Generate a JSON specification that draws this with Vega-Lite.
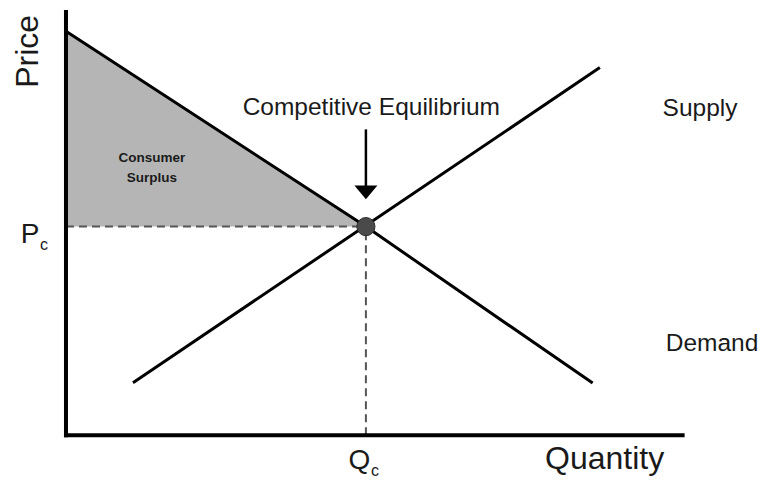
{
  "$schema": "https://vega.github.io/schema/vega-lite/v6.json",
  "width": 760,
  "height": 480,
  "padding": 0,
  "autosize": {"type": "fit", "contains": "padding"},
  "background": "white",
  "config": {"view": {"stroke": null}, "text": {"font": "Liberation Sans, Arial, sans-serif", "color": "#1a1a1a"}},
  "datasets": {
    "curves": [
      {"series": "Demand", "q": 0, "p": 9.68},
      {"series": "Demand", "q": 5, "p": 5},
      {"series": "Demand", "q": 8.78, "p": 1.25},
      {"series": "Supply", "q": 1.117, "p": 1.26},
      {"series": "Supply", "q": 8.9, "p": 8.81}
    ],
    "surplus": [
      {"q": 0, "p": 9.68, "p2": 5},
      {"q": 5, "p": 5, "p2": 5}
    ],
    "axes": [
      {"q": 0, "p": 0, "q2": 0, "p2": 10.14},
      {"q": 0, "p": 0, "q2": 10.28, "p2": 0}
    ],
    "guides": [
      {"q": 0, "p": 5, "q2": 5, "p2": 5},
      {"q": 5, "p": 0, "q2": 5, "p2": 5}
    ],
    "arrow": [{"q": 5, "p": 7.33, "q2": 5, "p2": 5.95}],
    "head": [{"q": 5, "p": 5.82}],
    "eq": [{"q": 5, "p": 5}],
    "bigLabels": [
      {"label": "Competitive Equilibrium", "q": 5.09, "p": 7.67},
      {"label": "Supply", "q": 10.57, "p": 7.64},
      {"label": "Demand", "q": 10.77, "p": 2.02}
    ],
    "priceTitle": [{"label": "Price", "q": -0.63, "p": 9.2}],
    "quantityTitle": [{"label": "Quantity", "q": 8.98, "p": -0.81}],
    "eqLetters": [
      {"label": "P", "q": -0.6, "p": 4.6},
      {"label": "Q", "q": 4.89, "p": -0.8}
    ],
    "subs": [
      {"label": "c", "q": -0.367, "p": 4.43},
      {"label": "c", "q": 5.15, "p": -0.98}
    ],
    "surplusText": [
      {"label": "Consumer", "q": 1.43, "p": 6.55},
      {"label": "Surplus", "q": 1.43, "p": 6.08}
    ]
  },
  "encoding": {
    "x": {"field": "q", "type": "quantitative", "axis": null, "scale": {"domain": [-1.1, 11.57], "nice": false, "zero": false}},
    "y": {"field": "p", "type": "quantitative", "axis": null, "scale": {"domain": [-1, 10.43], "nice": false, "zero": false}}
  },
  "layer": [
    {
      "data": {"name": "surplus"},
      "mark": {"type": "area", "color": "#b5b5b5", "opacity": 1},
      "encoding": {"y2": {"field": "p2"}}
    },
    {
      "data": {"name": "guides"},
      "mark": {"type": "rule", "color": "#555555", "strokeWidth": 2, "strokeDash": [8, 5]},
      "encoding": {"x2": {"field": "q2"}, "y2": {"field": "p2"}}
    },
    {
      "data": {"name": "curves"},
      "mark": {"type": "line", "color": "#000000", "strokeWidth": 3},
      "encoding": {"detail": {"field": "series"}, "order": {"field": "q"}}
    },
    {
      "data": {"name": "axes"},
      "mark": {"type": "rule", "color": "#000000", "strokeWidth": 4, "strokeCap": "square"},
      "encoding": {"x2": {"field": "q2"}, "y2": {"field": "p2"}}
    },
    {
      "data": {"name": "arrow"},
      "mark": {"type": "rule", "color": "#000000", "strokeWidth": 2.5},
      "encoding": {"x2": {"field": "q2"}, "y2": {"field": "p2"}}
    },
    {
      "data": {"name": "head"},
      "mark": {"type": "point", "shape": "M-1,-0.6L1,-0.6L0,0.6Z", "filled": true, "color": "#000000", "size": 529, "opacity": 1}
    },
    {
      "data": {"name": "eq"},
      "mark": {"type": "point", "shape": "circle", "filled": true, "color": "#4a4a4a", "stroke": "#2a2a2a", "strokeWidth": 1, "size": 330, "opacity": 1}
    },
    {
      "data": {"name": "bigLabels"},
      "mark": {"type": "text", "fontSize": 24.5, "align": "center", "baseline": "alphabetic"},
      "encoding": {"text": {"field": "label"}}
    },
    {
      "data": {"name": "priceTitle"},
      "mark": {"type": "text", "fontSize": 32, "angle": 270, "align": "center", "baseline": "middle"},
      "encoding": {"text": {"field": "label"}}
    },
    {
      "data": {"name": "quantityTitle"},
      "mark": {"type": "text", "fontSize": 32, "align": "center", "baseline": "alphabetic"},
      "encoding": {"text": {"field": "label"}}
    },
    {
      "data": {"name": "eqLetters"},
      "mark": {"type": "text", "fontSize": 28, "align": "center", "baseline": "alphabetic"},
      "encoding": {"text": {"field": "label"}}
    },
    {
      "data": {"name": "subs"},
      "mark": {"type": "text", "fontSize": 16, "align": "center", "baseline": "alphabetic"},
      "encoding": {"text": {"field": "label"}}
    },
    {
      "data": {"name": "surplusText"},
      "mark": {"type": "text", "fontSize": 13.5, "fontWeight": "bold", "align": "center", "baseline": "alphabetic"},
      "encoding": {"text": {"field": "label"}}
    }
  ]
}
